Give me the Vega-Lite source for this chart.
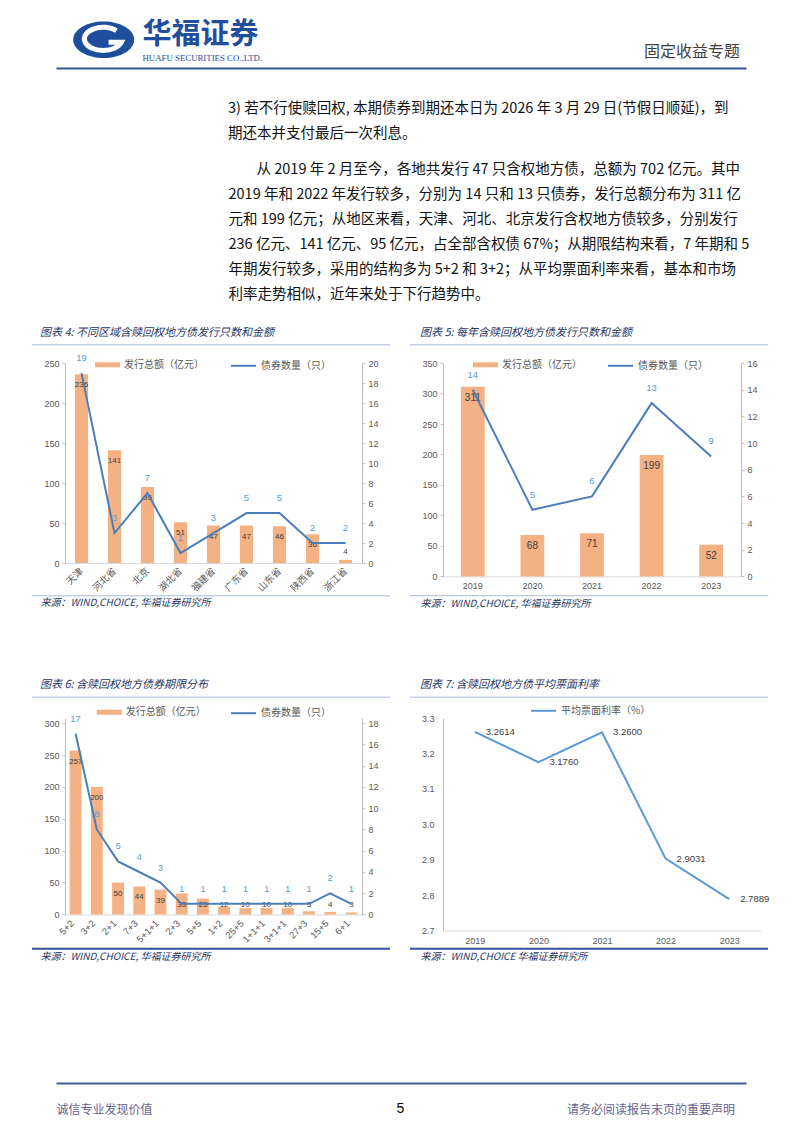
{
  "$schema": "https://vega.github.io/schema/vega-lite/v6.json",
  "background": "white",
  "padding": {"left": 31, "top": 17, "right": 0, "bottom": 0},
  "columns": 2,
  "spacing": {"row": 141.1, "column": 81},
  "bounds": "flush",
  "align": "each",
  "resolve": {"scale": {"fill": "independent", "stroke": "independent"}, "legend": {"fill": "independent", "stroke": "independent"}},
  "datasets": {
    "c4": [
      {"region": "天津", "amount": 236, "count": 19},
      {"region": "河北省", "amount": 141, "count": 3},
      {"region": "北京", "amount": 95, "count": 7},
      {"region": "湖北省", "amount": 51, "count": 1},
      {"region": "福建省", "amount": 47, "count": 3},
      {"region": "广东省", "amount": 47, "count": 5},
      {"region": "山东省", "amount": 46, "count": 5},
      {"region": "陕西省", "amount": 36, "count": 2},
      {"region": "浙江省", "amount": 4, "count": 2}
    ],
    "c5": [
      {"year": "2019", "amount": 311, "count": 14},
      {"year": "2020", "amount": 68, "count": 5},
      {"year": "2021", "amount": 71, "count": 6},
      {"year": "2022", "amount": 199, "count": 13},
      {"year": "2023", "amount": 52, "count": 9}
    ],
    "c6": [
      {"term": "5+2", "amount": 257, "count": 17},
      {"term": "3+2", "amount": 200, "count": 8},
      {"term": "2+1", "amount": 50, "count": 5},
      {"term": "7+3", "amount": 44, "count": 4},
      {"term": "5+1+1", "amount": 39, "count": 3},
      {"term": "2+3", "amount": 33, "count": 1},
      {"term": "5+5", "amount": 25, "count": 1},
      {"term": "1+2", "amount": 12, "count": 1},
      {"term": "25+5", "amount": 10, "count": 1},
      {"term": "1+1+1", "amount": 10, "count": 1},
      {"term": "3+1+1", "amount": 10, "count": 1},
      {"term": "27+3", "amount": 5, "count": 1},
      {"term": "15+5", "amount": 4, "count": 2},
      {"term": "6+1", "amount": 3, "count": 1}
    ],
    "c7": [
      {"year": "2019", "rate": 3.2614},
      {"year": "2020", "rate": 3.176},
      {"year": "2021", "rate": 3.26},
      {"year": "2022", "rate": 2.9031},
      {"year": "2023", "rate": 2.7889}
    ]
  },
  "concat": [
    {
      "width": 297,
      "height": 153.2,
      "layer": [
        {
          "data": {"values": [{"k": 1}]},
          "encoding": {
            "x": {"datum": 6.91, "type": "quantitative", "scale": {"domain": [0, 100], "range": [-9, 681], "nice": false, "zero": false},
              "axis": {"orient": "top", "domain": true, "domainColor": "#2F5597", "domainWidth": 2, "ticks": false, "labels": false, "grid": false,
                "title": "华福证券", "titleX": 77, "titleY": -33.4, "titleAlign": "left", "titleBaseline": "middle",
                "titleFont": "Noto Sans CJK SC", "titleFontSize": 29, "titleFontWeight": "bold", "titleColor": "#1E4E9C"}},
            "y": {"datum": -18.47, "type": "quantitative", "scale": {"domain": [0, 100], "range": [0, 153.2], "nice": false, "zero": false},
              "axis": {"orient": "left", "domain": false, "ticks": false, "labels": false, "grid": false,
                "title": "HUAFU SECURITIES CO.,LTD.", "titleAngle": 0, "titleX": 77, "titleY": -10.6, "titleAlign": "left", "titleBaseline": "middle",
                "titleFont": "Liberation Serif", "titleFontSize": 8.8, "titleFontWeight": "normal", "titleColor": "#1E4E9C"}}
          },
          "layer": [
            {"mark": {"type": "point", "shape": "M-1,0A1,0.6,0,1,0,1,0A1,0.6,0,1,0,-1,0Z", "size": 3721, "filled": true, "fill": "#1E4E9C", "strokeWidth": 0, "opacity": 1}},
            {"mark": {"type": "point", "shape": "M0.42,-0.3A0.62,0.38,0,1,0,0.58,0.08L0.16,0.08", "size": 3721, "filled": false, "stroke": "#FFFFFF", "strokeWidth": 5, "opacity": 1}}
          ]
        },
        {
          "data": {"values": [{"k": 1}]},
          "mark": {"type": "point", "opacity": 0},
          "encoding": {
            "x": {"datum": 0.5, "type": "quantitative", "scale": {"domain": [0, 1], "nice": false, "zero": false},
              "axis": {"orient": "bottom", "domain": false, "ticks": false, "labels": false, "grid": false,
                "title": ["2019 年和 2022 年发行较多，分别为 14 只和 13 只债券，发行总额分布为 311 亿", "元和 199 亿元；从地区来看，天津、河北、北京发行含权地方债较多，分别发行", "236 亿元、141 亿元、95 亿元，占全部含权债 67%；从期限结构来看，7 年期和 5", "年期发行较多，采用的结构多为 5+2 和 3+2；从平均票面利率来看，基本和市场", "利率走势相似，近年来处于下行趋势中。"],
                "titleX": 163, "titleY": -33.6, "titleAlign": "left", "titleBaseline": "top", "titleLineHeight": 25,
                "titleFont": "Noto Sans CJK SC", "titleFontSize": 14.5, "titleFontWeight": "normal", "titleColor": "#111111"}},
            "y": {"datum": 0.5, "type": "quantitative", "scale": {"domain": [0, 1], "nice": false, "zero": false},
              "axis": {"orient": "right", "domain": false, "ticks": false, "labels": false, "grid": false,
                "title": ["3) 若不行使赎回权, 本期债券到期还本日为 2026 年 3 月 29 日(节假日顺延)，到", "期还本并支付最后一次利息。"],
                "titleAngle": 0, "titleX": -134.5, "titleY": 33.6, "titleAlign": "left", "titleBaseline": "top", "titleLineHeight": 25,
                "titleFont": "Noto Sans CJK SC", "titleFontSize": 14.5, "titleFontWeight": "normal", "titleColor": "#111111"}}
          }
        },
        {
          "data": {"values": [{"k": 1}]},
          "mark": {"type": "point", "opacity": 0},
          "encoding": {
            "x": {"datum": 0.5, "type": "quantitative", "scale": {"domain": [0, 1], "nice": false, "zero": false},
              "axis": {"orient": "top", "domain": false, "ticks": false, "labels": false, "grid": false,
                "title": "从 2019 年 2 月至今，各地共发行 47 只含权地方债，总额为 702 亿元。其中",
                "titleX": 191, "titleY": 94.6, "titleAlign": "left", "titleBaseline": "top",
                "titleFont": "Noto Sans CJK SC", "titleFontSize": 14.5, "titleFontWeight": "normal", "titleColor": "#111111"}},
            "y": {"datum": 0.5, "type": "quantitative", "scale": {"domain": [0, 1], "nice": false, "zero": false}, "axis": null}
          }
        }
      ],
      "resolve": {"scale": {"x": "independent", "y": "independent"}}
    },
    {
      "width": 297,
      "height": 10,
      "title": {"text": "固定收益专题", "anchor": "end", "frame": "group", "offset": 7.9, "fontSize": 16, "fontStyle": "normal", "color": "#404040"},
      "data": {"values": [{"k": 1}]},
      "mark": {"type": "point", "opacity": 0},
      "encoding": {}
    },
    {
      "width": 297,
      "height": 200,
      "title": {"text": "图表 4: 不同区域含赎回权地方债发行只数和金额", "dx": -25},
      "data": {"name": "c4"},
      "layer": [
        {
          "layer": [
            {
              "mark": {"type": "bar"},
              "encoding": {
                "x": {"field": "region", "type": "nominal",
                  "scale": {"domain": ["天津", "河北省", "北京", "湖北省", "福建省", "广东省", "山东省", "陕西省", "浙江省"], "paddingInner": 0.6, "paddingOuter": 0.3},
                  "axis": {"orient": "bottom", "labelAngle": -45, "labelAlign": "right", "labelBaseline": "middle", "labelPadding": 6, "labelOverlap": false,
                    "labelFont": "Noto Sans CJK SC", "labelFontSize": 9.5, "ticks": false, "domainColor": "#D9D9D9",
                    "title": "来源：WIND,CHOICE, 华福证券研究所", "titleX": -25, "titleY": 39.7, "titleAlign": "left", "titleBaseline": "middle",
                    "titleFont": "Noto Sans CJK SC", "titleFontSize": 10, "titleFontStyle": "italic", "titleFontWeight": "normal", "titleColor": "#1F3864"}},
                "y": {"field": "amount", "type": "quantitative", "scale": {"domain": [0, 250], "nice": false},
                  "axis": {"orient": "left", "values": [0, 50, 100, 150, 200, 250], "tickCount": 40, "format": "d", "labelOverlap": false, "title": null}},
                "fill": {"datum": "发行总额（亿元）", "scale": {"range": ["#F4B183"]},
                  "legend": {"title": null, "orient": "none", "legendX": 30, "legendY": -10.8, "direction": "horizontal", "symbolType": "M-1,-0.2H1V0.2H-1Z", "symbolStrokeWidth": 0}}
              }
            },
            {
              "transform": [{"filter": "datum.amount >= 28"}],
              "mark": {"type": "text", "dy": 11, "fontSize": 8, "color": "#404040"},
              "encoding": {
                "x": {"field": "region", "type": "nominal"},
                "y": {"field": "amount", "type": "quantitative"},
                "text": {"field": "amount", "type": "quantitative"}
              }
            },
            {
              "transform": [{"filter": "datum.amount < 28"}],
              "mark": {"type": "text", "dy": -11, "fontSize": 8, "color": "#404040"},
              "encoding": {
                "x": {"field": "region", "type": "nominal"},
                "y": {"datum": 0},
                "text": {"field": "amount", "type": "quantitative"}
              }
            }
          ]
        },
        {
          "layer": [
            {
              "mark": {"type": "line", "strokeWidth": 2},
              "encoding": {
                "x": {"field": "region", "type": "nominal",
                  "scale": {"domain": ["天津", "河北省", "北京", "湖北省", "福建省", "广东省", "山东省", "陕西省", "浙江省"], "paddingInner": 0.6, "paddingOuter": 0.3},
                  "axis": null},
                "y": {"field": "count", "type": "quantitative", "scale": {"domain": [0, 20], "nice": false},
                  "axis": {"orient": "right", "values": [0, 2, 4, 6, 8, 10, 12, 14, 16, 18, 20], "tickCount": 40, "format": "d", "labelOverlap": false, "title": null}},
                "stroke": {"datum": "债券数量（只）", "scale": {"range": ["#4A7EBB"]},
                  "legend": {"title": null, "orient": "none", "legendX": 165, "legendY": -10.8, "direction": "horizontal", "symbolType": "stroke", "symbolStrokeWidth": 2}},
                "order": {"value": null}
              }
            },
            {
              "mark": {"type": "text", "dy": -15, "fontSize": 9.5, "color": "#5B9BD5"},
              "encoding": {
                "x": {"field": "region", "type": "nominal"},
                "y": {"field": "count", "type": "quantitative"},
                "text": {"field": "count", "type": "quantitative"}
              }
            }
          ]
        },
        {
          "data": {"values": [{"k": 1}]},
          "layer": [
            {
              "mark": {"type": "rule", "color": "#A9BCD9", "strokeWidth": 1},
              "encoding": {
                "x": {"datum": -0.1111, "type": "quantitative", "scale": {"domain": [0, 1], "nice": false, "zero": false}, "axis": null},
                "x2": {"datum": 1.0943},
                "y": {"datum": 1.0915, "type": "quantitative", "scale": {"domain": [0, 1], "nice": false, "zero": false}, "axis": null}
              }
            },
            {
              "mark": {"type": "rule", "color": "#A9BCD9", "strokeWidth": 1},
              "encoding": {
                "x": {"datum": -0.1111, "type": "quantitative"},
                "x2": {"datum": 1.0943},
                "y": {"datum": -0.1635, "type": "quantitative"}
              }
            }
          ]
        }
      ],
      "resolve": {"scale": {"x": "independent", "y": "independent"}}
    },
    {
      "width": 298,
      "height": 213.3,
      "title": {"text": "图表 5: 每年含赎回权地方债发行只数和金额", "dx": -23},
      "data": {"name": "c5"},
      "layer": [
        {
          "layer": [
            {
              "mark": {"type": "bar"},
              "encoding": {
                "x": {"field": "year", "type": "nominal",
                  "scale": {"domain": ["2019", "2020", "2021", "2022", "2023"], "paddingInner": 0.6, "paddingOuter": 0.3},
                  "axis": {"orient": "bottom", "labelAngle": 0, "labelPadding": 5, "labelOverlap": false, "ticks": false, "domainColor": "#D9D9D9",
                    "title": "来源：WIND,CHOICE, 华福证券研究所", "titleX": -23, "titleY": 26.8, "titleAlign": "left", "titleBaseline": "middle",
                    "titleFont": "Noto Sans CJK SC", "titleFontSize": 10, "titleFontStyle": "italic", "titleFontWeight": "normal", "titleColor": "#1F3864"}},
                "y": {"field": "amount", "type": "quantitative", "scale": {"domain": [0, 350], "nice": false},
                  "axis": {"orient": "left", "values": [0, 50, 100, 150, 200, 250, 300, 350], "tickCount": 40, "format": "d", "labelOverlap": false, "title": null}},
                "fill": {"datum": "发行总额（亿元）", "scale": {"range": ["#F4B183"]},
                  "legend": {"title": null, "orient": "none", "legendX": 30, "legendY": -10.8, "direction": "horizontal", "symbolType": "M-1,-0.2H1V0.2H-1Z", "symbolStrokeWidth": 0}}
              }
            },
            {
              "mark": {"type": "text", "dy": 11, "fontSize": 10, "color": "#404040"},
              "encoding": {
                "x": {"field": "year", "type": "nominal"},
                "y": {"field": "amount", "type": "quantitative"},
                "text": {"field": "amount", "type": "quantitative"}
              }
            }
          ]
        },
        {
          "layer": [
            {
              "mark": {"type": "line", "strokeWidth": 2},
              "encoding": {
                "x": {"field": "year", "type": "nominal",
                  "scale": {"domain": ["2019", "2020", "2021", "2022", "2023"], "paddingInner": 0.6, "paddingOuter": 0.3},
                  "axis": null},
                "y": {"field": "count", "type": "quantitative", "scale": {"domain": [0, 16], "nice": false},
                  "axis": {"orient": "right", "values": [0, 2, 4, 6, 8, 10, 12, 14, 16], "tickCount": 40, "format": "d", "labelOverlap": false, "title": null}},
                "stroke": {"datum": "债券数量（只）", "scale": {"range": ["#4A7EBB"]},
                  "legend": {"title": null, "orient": "none", "legendX": 164, "legendY": -10.8, "direction": "horizontal", "symbolType": "stroke", "symbolStrokeWidth": 2}},
                "order": {"value": null}
              }
            },
            {
              "mark": {"type": "text", "dy": -15, "fontSize": 9.5, "color": "#5B9BD5"},
              "encoding": {
                "x": {"field": "year", "type": "nominal"},
                "y": {"field": "count", "type": "quantitative"},
                "text": {"field": "count", "type": "quantitative"}
              }
            }
          ]
        },
        {
          "data": {"values": [{"k": 1}]},
          "layer": [
            {
              "mark": {"type": "rule", "color": "#A9BCD9", "strokeWidth": 1},
              "encoding": {
                "x": {"datum": -0.1107, "type": "quantitative", "scale": {"domain": [0, 1], "nice": false, "zero": false}, "axis": null},
                "x2": {"datum": 1.0906},
                "y": {"datum": 1.0858, "type": "quantitative", "scale": {"domain": [0, 1], "nice": false, "zero": false}, "axis": null}
              }
            },
            {
              "mark": {"type": "rule", "color": "#A9BCD9", "strokeWidth": 1},
              "encoding": {
                "x": {"datum": -0.1107, "type": "quantitative"},
                "x2": {"datum": 1.0906},
                "y": {"datum": -0.0905, "type": "quantitative"}
              }
            }
          ]
        }
      ],
      "resolve": {"scale": {"x": "independent", "y": "independent"}}
    },
    {
      "width": 297,
      "height": 196.3,
      "title": {"text": "图表 6: 含赎回权地方债券期限分布", "dx": -25},
      "data": {"name": "c6"},
      "layer": [
        {
          "layer": [
            {
              "mark": {"type": "bar"},
              "encoding": {
                "x": {"field": "term", "type": "nominal",
                  "scale": {"domain": ["5+2", "3+2", "2+1", "7+3", "5+1+1", "2+3", "5+5", "1+2", "25+5", "1+1+1", "3+1+1", "27+3", "15+5", "6+1"], "paddingInner": 0.44, "paddingOuter": 0.22},
                  "axis": {"orient": "bottom", "labelAngle": -45, "labelAlign": "right", "labelBaseline": "middle", "labelPadding": 7, "labelOffset": -3, "labelOverlap": false,
                    "labelFontSize": 9.5, "ticks": false, "domainColor": "#D9D9D9",
                    "title": "来源：WIND,CHOICE, 华福证券研究所", "titleX": -25, "titleY": 41.5, "titleAlign": "left", "titleBaseline": "middle",
                    "titleFont": "Noto Sans CJK SC", "titleFontSize": 10, "titleFontStyle": "italic", "titleFontWeight": "normal", "titleColor": "#1F3864"}},
                "y": {"field": "amount", "type": "quantitative", "scale": {"domain": [0, 307.8], "nice": false},
                  "axis": {"orient": "left", "values": [0, 50, 100, 150, 200, 250, 300], "tickCount": 40, "format": "d", "labelOverlap": false, "title": null}},
                "fill": {"datum": "发行总额（亿元）", "scale": {"range": ["#F4B183"]},
                  "legend": {"title": null, "orient": "none", "legendX": 31.7, "legendY": -18.5, "direction": "horizontal", "symbolType": "M-1,-0.2H1V0.2H-1Z", "symbolStrokeWidth": 0}}
              }
            },
            {
              "transform": [{"filter": "datum.amount >= 34"}],
              "mark": {"type": "text", "dy": 11, "fontSize": 8, "color": "#404040"},
              "encoding": {
                "x": {"field": "term", "type": "nominal"},
                "y": {"field": "amount", "type": "quantitative"},
                "text": {"field": "amount", "type": "quantitative"}
              }
            },
            {
              "transform": [{"filter": "datum.amount < 34"}],
              "mark": {"type": "text", "dy": -10, "fontSize": 8, "color": "#404040"},
              "encoding": {
                "x": {"field": "term", "type": "nominal"},
                "y": {"datum": 0},
                "text": {"field": "amount", "type": "quantitative"}
              }
            }
          ]
        },
        {
          "layer": [
            {
              "mark": {"type": "line", "strokeWidth": 2},
              "encoding": {
                "x": {"field": "term", "type": "nominal",
                  "scale": {"domain": ["5+2", "3+2", "2+1", "7+3", "5+1+1", "2+3", "5+5", "1+2", "25+5", "1+1+1", "3+1+1", "27+3", "15+5", "6+1"], "paddingInner": 0.44, "paddingOuter": 0.22},
                  "axis": null},
                "y": {"field": "count", "type": "quantitative", "scale": {"domain": [0, 18.47], "nice": false},
                  "axis": {"orient": "right", "values": [0, 2, 4, 6, 8, 10, 12, 14, 16, 18], "tickCount": 40, "format": "d", "labelOverlap": false, "title": null}},
                "stroke": {"datum": "债券数量（只）", "scale": {"range": ["#4A7EBB"]},
                  "legend": {"title": null, "orient": "none", "legendX": 165, "legendY": -18.5, "direction": "horizontal", "symbolType": "stroke", "symbolStrokeWidth": 2}},
                "order": {"value": null}
              }
            },
            {
              "mark": {"type": "text", "dy": -15, "fontSize": 9.5, "color": "#5B9BD5"},
              "encoding": {
                "x": {"field": "term", "type": "nominal"},
                "y": {"field": "count", "type": "quantitative"},
                "text": {"field": "count", "type": "quantitative"}
              }
            }
          ]
        },
        {
          "data": {"values": [{"k": 1}]},
          "layer": [
            {
              "mark": {"type": "rule", "color": "#A9BCD9", "strokeWidth": 1},
              "encoding": {
                "x": {"datum": -0.1111, "type": "quantitative", "scale": {"domain": [0, 1], "nice": false, "zero": false}, "axis": null},
                "x2": {"datum": 1.0943},
                "y": {"datum": 1.107, "type": "quantitative", "scale": {"domain": [0, 1], "nice": false, "zero": false}, "axis": null}
              }
            },
            {
              "mark": {"type": "rule", "color": "#2F5597", "strokeWidth": 2},
              "encoding": {
                "x": {"datum": -0.1111, "type": "quantitative"},
                "x2": {"datum": 1.0943},
                "y": {"datum": -0.1747, "type": "quantitative"}
              }
            }
          ]
        }
      ],
      "resolve": {"scale": {"x": "independent", "y": "independent"}}
    },
    {
      "width": 318,
      "height": 212.3,
      "title": {"text": "图表 7: 含赎回权地方债平均票面利率", "dx": -23},
      "data": {"name": "c7"},
      "layer": [
        {
          "layer": [
            {
              "mark": {"type": "line", "strokeWidth": 2},
              "encoding": {
                "x": {"field": "year", "type": "nominal", "scale": {"type": "point", "padding": 0.5},
                  "axis": {"orient": "bottom", "labelAngle": 0, "labelPadding": 6, "labelOverlap": false, "ticks": false, "domainColor": "#D9D9D9",
                    "title": "来源：WIND,CHOICE 华福证券研究所", "titleX": -23, "titleY": 25.5, "titleAlign": "left", "titleBaseline": "middle",
                    "titleFont": "Noto Sans CJK SC", "titleFontSize": 10, "titleFontStyle": "italic", "titleFontWeight": "normal", "titleColor": "#1F3864"}},
                "y": {"field": "rate", "type": "quantitative", "scale": {"domain": [2.7, 3.3], "nice": false, "zero": false},
                  "axis": {"orient": "left", "values": [2.7, 2.8, 2.9, 3.0, 3.1, 3.2, 3.3], "tickCount": 40, "format": ".1f", "labelOverlap": false, "ticks": false, "labelPadding": 9, "title": null}},
                "stroke": {"datum": "平均票面利率（%）", "scale": {"range": ["#5B9BD5"]},
                  "legend": {"title": null, "orient": "none", "legendX": 87, "legendY": -20.9, "direction": "horizontal", "symbolType": "stroke", "symbolStrokeWidth": 2}},
                "order": {"value": null}
              }
            },
            {
              "mark": {"type": "text", "align": "left", "dx": 11, "fontSize": 9.5, "color": "#404040"},
              "encoding": {
                "x": {"field": "year", "type": "nominal"},
                "y": {"field": "rate", "type": "quantitative"},
                "text": {"field": "rate", "type": "quantitative", "format": ".4f"}
              }
            }
          ]
        },
        {
          "data": {"values": [{"k": 1}]},
          "layer": [
            {
              "mark": {"type": "rule", "color": "#A9BCD9", "strokeWidth": 1},
              "encoding": {
                "x": {"datum": -0.1038, "type": "quantitative", "scale": {"domain": [0, 1], "nice": false, "zero": false}, "axis": null},
                "x2": {"datum": 1.022},
                "y": {"datum": 1.0989, "type": "quantitative", "scale": {"domain": [0, 1], "nice": false, "zero": false}, "axis": null}
              }
            },
            {
              "mark": {"type": "rule", "color": "#2F5597", "strokeWidth": 2},
              "encoding": {
                "x": {"datum": -0.1038, "type": "quantitative"},
                "x2": {"datum": 1.022},
                "y": {"datum": -0.0862, "type": "quantitative"}
              }
            }
          ]
        }
      ],
      "resolve": {"scale": {"x": "independent", "y": "independent"}}
    },
    {
      "width": 297,
      "height": 50,
      "layer": [
        {
          "data": {"values": [{"k": 1}]},
          "mark": {"type": "point", "opacity": 0},
          "encoding": {
            "x": {"datum": 50, "type": "quantitative", "scale": {"domain": [0, 100], "range": [-9, 681], "nice": false, "zero": false},
              "axis": {"orient": "top", "offset": -10.6, "domain": true, "domainColor": "#3B5C9C", "domainWidth": 2, "ticks": false, "labels": false, "grid": false,
                "title": "诚信专业发现价值", "titleX": -9, "titleY": 26.1, "titleAlign": "left", "titleBaseline": "middle",
                "titleFont": "Noto Sans CJK SC", "titleFontSize": 12, "titleFontWeight": "normal", "titleColor": "#64648F"}},
            "y": {"datum": 50, "type": "quantitative", "scale": {"domain": [0, 100], "nice": false, "zero": false},
              "axis": {"orient": "left", "domain": false, "ticks": false, "labels": false, "grid": false,
                "title": "5", "titleAngle": 0, "titleX": 335, "titleY": 35.7, "titleAlign": "center", "titleBaseline": "middle",
                "titleFont": "Liberation Sans", "titleFontSize": 14, "titleFontWeight": "normal", "titleColor": "#000000"}}
          }
        },
        {
          "data": {"values": [{"k": 1}]},
          "mark": {"type": "point", "opacity": 0},
          "encoding": {
            "x": {"datum": 50, "type": "quantitative", "scale": {"domain": [0, 100], "nice": false, "zero": false}, "axis": null},
            "y": {"datum": 50, "type": "quantitative", "scale": {"domain": [0, 100], "nice": false, "zero": false},
              "axis": {"orient": "right", "domain": false, "ticks": false, "labels": false, "grid": false,
                "title": "请务必阅读报告末页的重要声明", "titleAngle": 0, "titleX": 372.5, "titleY": 36.7, "titleAlign": "right", "titleBaseline": "middle",
                "titleFont": "Noto Sans CJK SC", "titleFontSize": 12, "titleFontWeight": "normal", "titleColor": "#64648F"}}
          }
        }
      ],
      "resolve": {"scale": {"x": "independent", "y": "independent"}}
    }
  ],
  "config": {
    "view": {"stroke": null},
    "font": "Liberation Sans",
    "axis": {"grid": false, "labelOverlap": false, "domainColor": "#BFBFBF", "tickColor": "#BFBFBF", "tickSize": 3, "labelPadding": 3, "labelFont": "Liberation Sans", "labelFontSize": 9, "labelColor": "#595959", "titleFontWeight": "normal"},
    "legend": {"labelFont": "Noto Sans CJK SC", "labelFontSize": 10, "labelColor": "#595959", "symbolSize": 625, "padding": 0, "labelOffset": 4},
    "title": {"font": "Noto Sans CJK SC", "fontSize": 11, "fontStyle": "italic", "fontWeight": "normal", "color": "#1F3864", "anchor": "start", "frame": "group", "baseline": "top", "offset": 6.3},
    "text": {"font": "Liberation Sans"}
  }
}
